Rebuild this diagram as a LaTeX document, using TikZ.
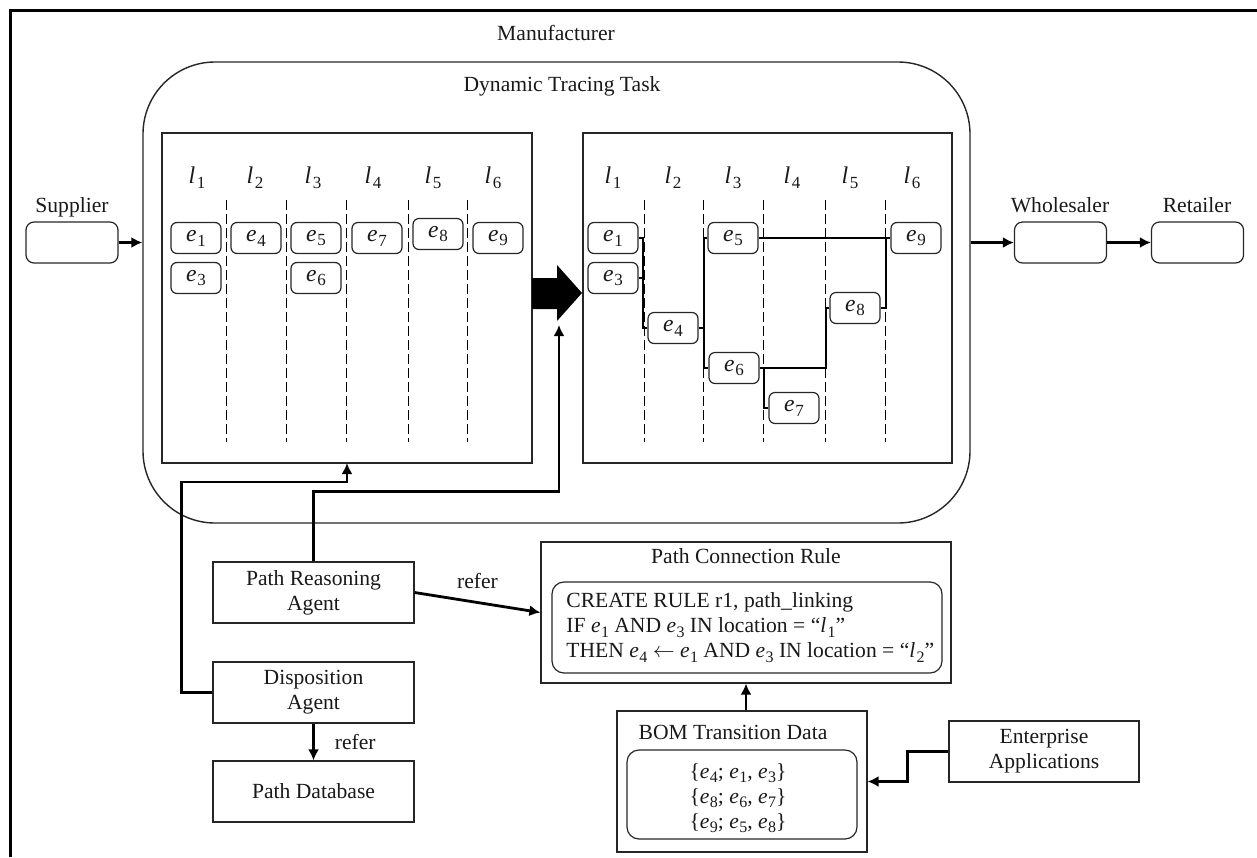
\documentclass[tikz,border=0pt]{standalone}
\usepackage{fontspec}
\setmainfont{Liberation Serif}[ItalicFont={Liberation Serif Italic}]
\usetikzlibrary{arrows.meta,calc}
% event / location symbols with lowered indices
\newcommand{\ev}[1]{\textit{e}\kern0.3pt\raisebox{-0.45ex}{\fontsize{8.5}{9}\selectfont #1}}
\newcommand{\lv}[1]{\textit{l}\kern0.8pt\raisebox{-0.45ex}{\fontsize{8.5}{9}\selectfont #1}}
\newcommand{\es}[1]{\textit{e}\kern0.2pt\raisebox{-0.45ex}{\fontsize{8}{8}\selectfont #1}}
\newcommand{\ls}[1]{\textit{l}\kern0.6pt\raisebox{-0.45ex}{\fontsize{8}{8}\selectfont #1}}
\begin{document}
\begin{tikzpicture}[x=0.5pt,y=-0.5pt,
  every node/.style={font=\fontsize{10.8}{13}\selectfont, inner sep=0pt, text=black!90},
  ebox/.style={draw=black!85, rounded corners=3pt, line width=0.6pt, minimum width=25pt, minimum height=15.5pt, font=\fontsize{11.8}{13}\selectfont},
  lanelbl/.style={font=\fontsize{12}{13}\selectfont},
  panelbox/.style={draw=black!85, line width=0.6pt},
  flowbox/.style={draw=black!85, rounded corners=4pt, line width=0.6pt, minimum width=46pt, minimum height=20.5pt},
  agentbox/.style={draw=black!85, line width=0.6pt, minimum width=100.5pt, minimum height=30.5pt, align=center, font=\fontsize{10.8}{12.5}\selectfont},
  conn/.style={line width=1.4pt, -{Latex[length=5.5pt,width=5.5pt]}},
  linkline/.style={line width=1pt},
  laneline/.style={line width=0.5pt, dash pattern=on 5pt off 2pt},
]
\useasboundingbox (0,0) rectangle (1257,857);

% manufacturer frame
\draw[line width=1.5pt] (10,857) -- (10,10) -- (1257,10);
\node (mfr) at (556,33) {Manufacturer};

% dynamic tracing task
\node[draw=black!85, line width=0.7pt, rounded corners=36pt, minimum width=413.5pt, minimum height=230.5pt] (dtt) at (556.5,292.5) {};
\node (dttl) at (562,86) {Dynamic Tracing Task};

% two tracing panels
\node[panelbox, minimum width=185pt, minimum height=165pt] (lp) at (347,298) {};
\node[panelbox, minimum width=184.5pt, minimum height=165pt] (rp) at (767.5,298) {};

\foreach \i/\x in {1/197,2/255,3/313,4/373,5/433,6/493}
  \node[lanelbl] (ll\i) at (\x,178) {\lv{\i}};
\foreach \i/\x in {1/613,2/673,3/733,4/792,5/850,6/912}
  \node[lanelbl] (rl\i) at (\x,178) {\lv{\i}};
\foreach \x in {226,286,346,408,467,644,703,763,825,885}
  \draw[laneline] (\x,200) -- (\x,442);

% events before linking
\node[ebox] (a1) at (196,238) {\ev{1}};
\node[ebox] (a3) at (196,278) {\ev{3}};
\node[ebox] (a4) at (256,238) {\ev{4}};
\node[ebox] (a5) at (316,238) {\ev{5}};
\node[ebox] (a6) at (316,278) {\ev{6}};
\node[ebox] (a7) at (377,238) {\ev{7}};
\node[ebox] (a8) at (438,234) {\ev{8}};
\node[ebox] (a9) at (498,238) {\ev{9}};

% events after linking
\node[ebox] (r1) at (613,238) {\ev{1}};
\node[ebox] (r3) at (613,278) {\ev{3}};
\node[ebox] (r4) at (673,328) {\ev{4}};
\node[ebox] (r5) at (733,238) {\ev{5}};
\node[ebox] (r6) at (734,368) {\ev{6}};
\node[ebox] (r7) at (794,408) {\ev{7}};
\node[ebox] (r8) at (855,308) {\ev{8}};
\node[ebox] (r9) at (916,238) {\ev{9}};

\draw[linkline] (r1.east) -- ++(4,0) |- (r4.west);
\draw[linkline] (r3.east) -- ++(4,0);
\draw[linkline] (r4.east) -- ++(5,0) |- (r5.west);
\draw[linkline] ($(r4.east)+(5,0)$) |- (r6.west);
\draw[linkline] (r5.east) -- (r9.west);
\draw[linkline] (r8.east) -- ++(5,0) |- (r9.west);
\draw[linkline] (r6.east) -- ++(66,0) |- (r8.west);
\draw[linkline] ($(r6.east)+(4,0)$) |- (r7.west);

% transformation arrow
\fill (532,278) -- (557,278) -- (557,265) -- (582,293) -- (557,321) -- (557,309) -- (532,309) -- cycle;
\coordinate (tip) at (559,325);
\coordinate (lpin) at (347,463);

% supply chain partners
\node (supl) at (72,207) {Supplier};
\node[flowbox] (sup) at (72,242.5) {};
\node (whsl) at (1060,205) {Wholesaler};
\node[flowbox] (whs) at (1060.5,242.5) {};
\node (retl) at (1197,205) {Retailer};
\node[flowbox] (ret) at (1197.5,242.5) {};
\draw[conn] (sup.east) -- (sup.east -| dtt.west);
\draw[conn] (dtt.east |- whs.west) -- (whs.west);
\draw[conn] (whs.east) -- (ret.west);

% agents and data
\node[agentbox] (pra) at (313.5,592.5) {Path Reasoning\\Agent};
\node[agentbox] (da) at (313.5,692.5) {Disposition\\Agent};
\node[agentbox] (pdb) at (313.5,791.5) {Path Database};

\draw[conn] (pra.north) -- ++(0,-70) -| (tip);
\draw[conn] (da.west) -- ++(-31,0) |- ($(lpin)+(0,19)$) -- (lpin);
\draw[conn] (da.south) -- node[right=10pt] {refer} (pdb.north);

% path connection rule
\node[panelbox, minimum width=205pt, minimum height=70.5pt] (pcr) at (746,612.5) {};
\node (pcrl) at (746,556) {Path Connection Rule};
\node[draw=black!85, line width=0.6pt, rounded corners=6pt, minimum width=195pt, minimum height=45.5pt] (rule) at (747,627.5) {};
\node[anchor=west, align=left, font=\fontsize{10.8}{12.5}\selectfont] (ruletxt) at (566,627.5)
  {CREATE RULE r1, path\_linking\\
   IF \es{1} AND \es{3} IN location = “\ls{1}”\\
   THEN \es{4} $\leftarrow$ \es{1} AND \es{3} IN location = “\ls{2}”};
\draw[conn] (pra.east) -- node[above=6pt] {refer} (pcr.west);

% BOM transition data
\node[panelbox, minimum width=125pt, minimum height=70.5pt] (bom) at (742,781.5) {};
\node (boml) at (733,732) {BOM Transition Data};
\node[draw=black!85, line width=0.6pt, rounded corners=6pt, minimum width=115pt, minimum height=44.5pt] (bomin) at (742,794.5) {};
\node[align=center, font=\fontsize{10.8}{12.5}\selectfont] (bomtxt) at (738,798)
  {\{\es{4}; \es{1}, \es{3}\}\\ \{\es{8}; \es{6}, \es{7}\}\\ \{\es{9}; \es{5}, \es{8}\}};
\draw[conn] (bom.north -| pcr.south) -- (pcr.south);

\node[agentbox, minimum width=95pt] (ea) at (1044,751.5) {Enterprise\\Applications};
\draw[conn] (ea.west) -- ++(-41,0) |- (bom.east);
\end{tikzpicture}
\end{document}
